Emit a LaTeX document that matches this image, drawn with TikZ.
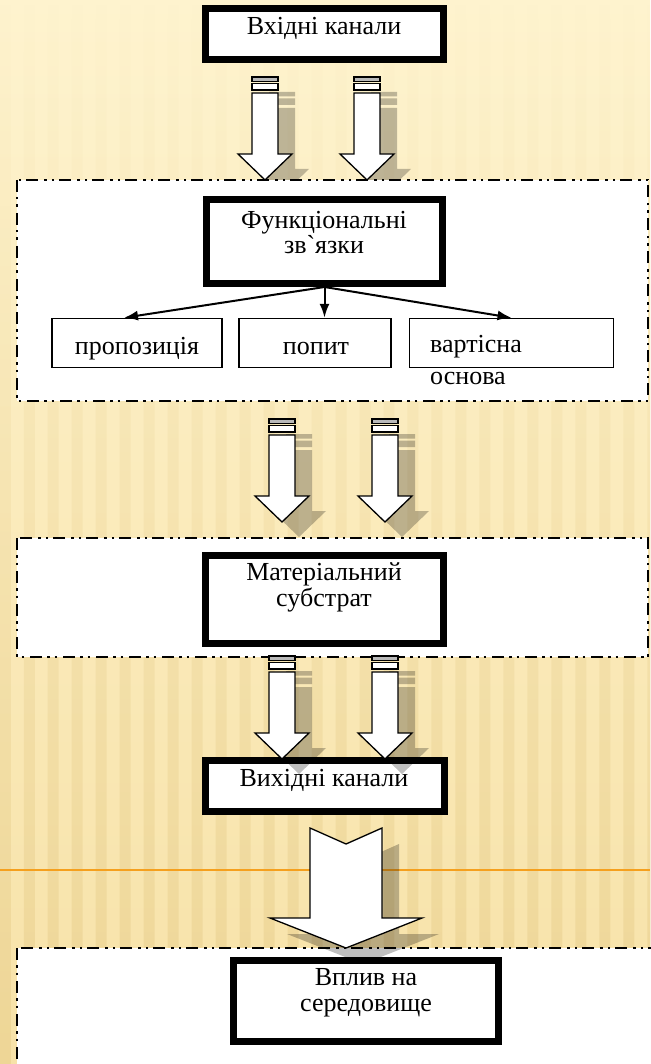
\documentclass[tikz,border=0pt]{standalone}
\usepackage{fontspec}
\newfontfamily\uafont{Liberation Serif}
\usetikzlibrary{arrows.meta,fadings}
\definecolor{bgtop}{RGB}{254,243,206}
\definecolor{bgbottom}{RGB}{247,226,168}
\definecolor{stripe}{RGB}{214,182,104}
\definecolor{rule}{RGB}{245,160,30}
\tikzfading[name=stripe fade, top color=transparent!100, bottom color=transparent!10]

\begin{document}
\begin{tikzpicture}[x=1pt,y=-1pt,>={Latex[length=14pt,width=10pt]},
    thickbox/.style={draw,line width=7pt,fill=white,inner sep=0pt},
    thinbox/.style={draw,line width=1.5pt,fill=white,inner sep=0pt},
    dashbox/.style={draw,fill=white,line width=2.5pt,
      dash pattern=on 12pt off 5pt on 2.5pt off 5pt on 2.5pt off 6pt},
    txt/.style={font=\uafont\fontsize{26}{30}\selectfont,inner sep=0pt,anchor=base},
    chanshadow/.style={fill=black,fill opacity=.25},
    chanline/.style={draw,line width=1.3pt},
    link/.style={->,line width=2pt},
    chan/.pic={
      % shadow, shifted down and right
      \begin{scope}[shift={(17,15)}]
        \fill[chanshadow] (-13,0) rectangle (13,4.5) (-13,6.5) rectangle (13,13)
          (-13,16) -- (-13,77) -- (-27,77) -- (0,103) -- (27,77) -- (13,77) -- (13,16) -- cycle;
      \end{scope}
      \draw[chanline,fill=gray!55] (-13,0) rectangle (13,4.5);
      \draw[chanline,fill=white] (-13,6.5) rectangle (13,13);
      \draw[chanline,fill=white] (-13,16) -- (-13,77) -- (-27,77) -- (0,103)
        -- (27,77) -- (13,77) -- (13,16) -- cycle;
    }]
  \useasboundingbox (0,0) rectangle (650,1064);
  % background with stripes
  \shade[top color=bgtop,bottom color=bgbottom] (0,0) rectangle (650,1064);
  \fill[stripe,fill opacity=.3,path fading=stripe fade]
    \foreach \x in {0,24,...,648} { (\x,0) rectangle ++(11,1064) };
  \draw[rule,line width=1.5pt] (0,870) -- (650,870);

  % input channels
  \node[thickbox,minimum width=238pt,minimum height=51pt] (inch) at (324.5,34) {};
  \node[txt] (inchtxt) at (324,35) {Вхідні канали};
  \foreach \cx in {265,367} { \pic at (\cx,77) {chan}; }

  % functional links
  \draw[dashbox] (17,180) rectangle (648,401);
  \node[thickbox,minimum width=236pt,minimum height=84pt] (func) at (324.5,241.5) {};
  \node[txt] (functxt) at (324,229) {Функціональні};
  \node[txt] (functxtb) at (324,254) {зв`язки};
  \node[thinbox,minimum width=170pt,minimum height=49pt] (prop) at (137,343) {};
  \node[thinbox,minimum width=152pt,minimum height=49pt] (pop) at (315,343) {};
  \node[thinbox,minimum width=204pt,minimum height=49pt] (val) at (511.5,343) {};
  \node[txt] (proptxt) at (137,354) {пропозиція};
  \node[txt] (poptxt) at (316,354) {попит};
  \node[txt,anchor=base west] (valtxt) at (430,352) {вартісна};
  \node[txt,anchor=base west] (valtxtb) at (430,384) {основа};
  \draw[link] (func.south) -- ([xshift=-13pt]prop.north);
  \draw[link] (func.south) -- (func.south |- pop.north);
  \draw[link] (func.south) -- (val.north);

  % material substrate
  \foreach \cx in {282,385} { \pic at (\cx,419) {chan}; }
  \draw[dashbox] (17,538) rectangle (648,657);
  \node[thickbox,minimum width=238pt,minimum height=88pt] (mat) at (324.5,599.5) {};
  \node[txt] (mattxt) at (324,580) {Матеріальний};
  \node[txt] (mattxtb) at (324,606) {субстрат};

  % output channels
  \node[thickbox,minimum width=239pt,minimum height=51pt] (outch) at (325,786) {};
  \node[txt] (outchtxt) at (324,786) {Вихідні канали};
  \foreach \cx in {282,385} { \pic at (\cx,656) {chan}; }

  % influence on the environment
  \draw[dashbox] (17,948) rectangle (652,1080);
  \fill[chanshadow] (327,844) -- (363,860) -- (399,844) -- (399,934) -- (439,934)
    -- (363,964) -- (287,934) -- (327,934) -- cycle;
  \draw[chanline,fill=white] (310,828) -- (346,844) -- (382,828) -- (382,918) -- (422,918)
    -- (346,948) -- (270,918) -- (310,918) -- cycle;
  \node[thickbox,minimum width=265pt,minimum height=81pt] (env) at (366,1001) {};
  \node[txt] (envtxt) at (366,985) {Вплив на};
  \node[txt] (envtxtb) at (366,1011) {середовище};
\end{tikzpicture}
\end{document}
